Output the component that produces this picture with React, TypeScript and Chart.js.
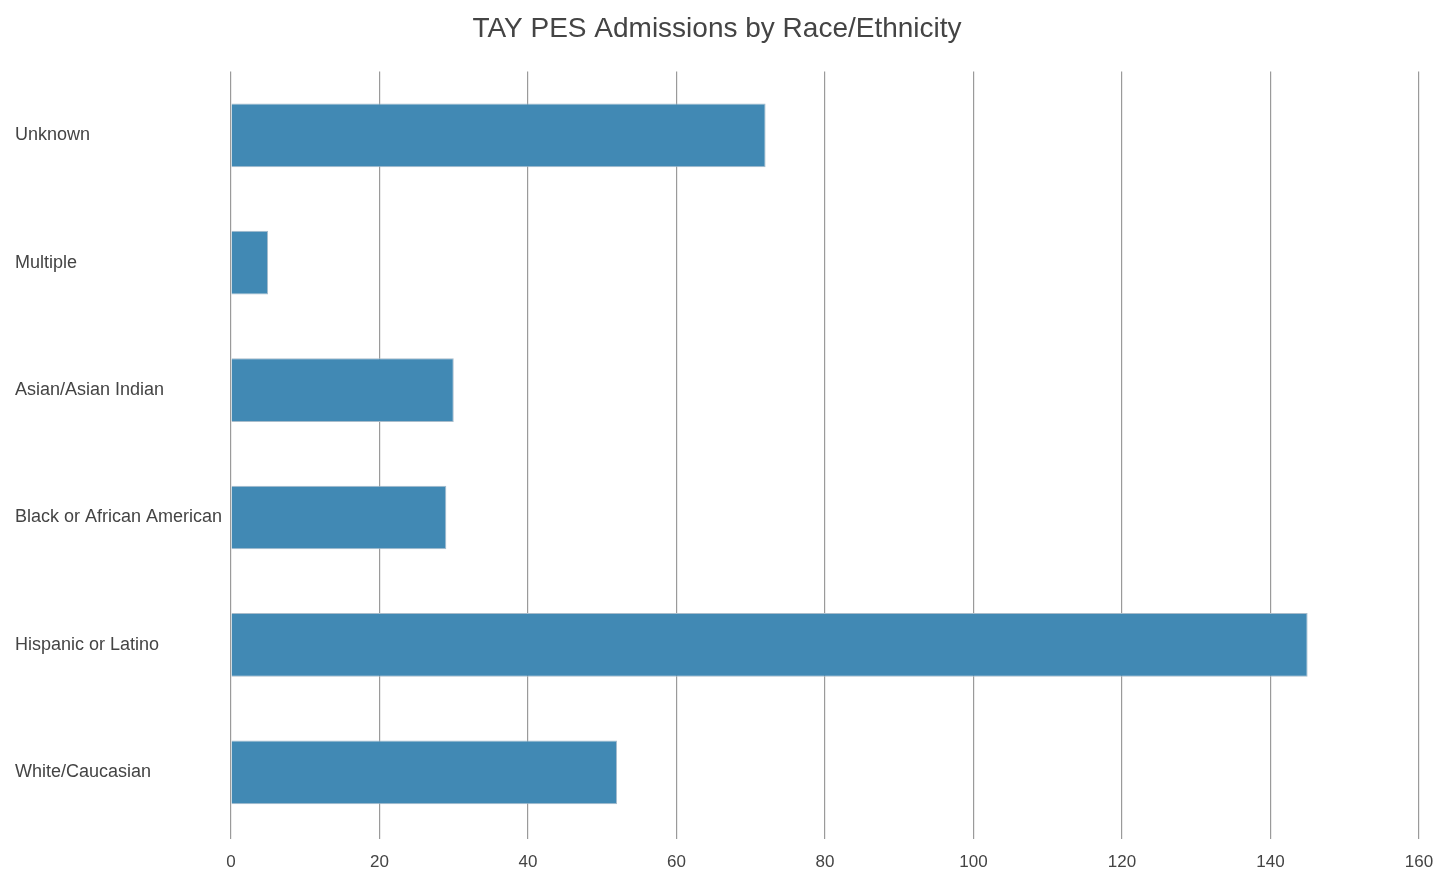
import React, { useEffect, useRef } from "react";
import { Chart, registerables } from "chart.js";

Chart.register(...registerables);

const categories = [
  "Unknown",
  "Multiple",
  "Asian/Asian Indian",
  "Black or African American",
  "Hispanic or Latino",
  "White/Caucasian",
];
const admissions = [72, 5, 30, 29, 145, 52];
const xTicks = [0, 20, 40, 60, 80, 100, 120, 140, 160];
const titleText = "TAY PES Admissions by Race/Ethnicity";

export default function App() {
  const ref = useRef<HTMLCanvasElement>(null);
  useEffect(() => {
    if (!ref.current) return;
    const chart = new Chart(ref.current, {
      type: "bar",
      data: {
        labels: categories,
        datasets: [
          {
            data: admissions,
            backgroundColor: "#4189b4",
            borderColor: "#a8bccb",
            borderWidth: 1,
            barPercentage: 0.5,
            categoryPercentage: 1,
          },
        ],
      },
      options: {
        indexAxis: "y",
        animation: false,
        responsive: false,
        layout: { padding: { left: 15, right: 23, top: 0, bottom: 2 } },
        plugins: {
          legend: { display: false },
          tooltip: { enabled: false },
          title: {
            display: true,
            text: titleText,
            color: "#444444",
            font: { family: "Liberation Sans", size: 28, weight: "normal" },
            padding: { top: 12, bottom: 26 },
          },
        },
        scales: {
          x: {
            min: 0,
            max: 160,
            afterBuildTicks: (scale: any) => {
              scale.ticks = xTicks.map((v) => ({ value: v }));
            },
            afterFit: (scale: any) => {
              scale.height = 36;
              scale.paddingRight = 0;
              scale.paddingLeft = 0;
            },
            grid: {
              color: "#9a9a9a",
              lineWidth: 1.2,
              drawTicks: true,
              tickLength: 3,
            },
            border: { display: false },
            ticks: {
              color: "#444444",
              padding: 13,
              font: { family: "Liberation Sans", size: 17 },
            },
          },
          y: {
            grid: { display: false },
            border: { display: false },
            afterFit: (scale: any) => {
              scale.width = 216;
            },
            ticks: {
              crossAlign: "far",
              color: "#444444",
              font: { family: "Liberation Sans", size: 18 },
            },
          },
        },
      },
    });
    return () => chart.destroy();
  }, []);
  return (
    <div style={{ position: "fixed", left: 0, top: 0, width: 1442, height: 874, background: "#fff" }}>
      <canvas ref={ref} width={1442} height={874} style={{ width: 1442, height: 874 }} />
    </div>
  );
}
